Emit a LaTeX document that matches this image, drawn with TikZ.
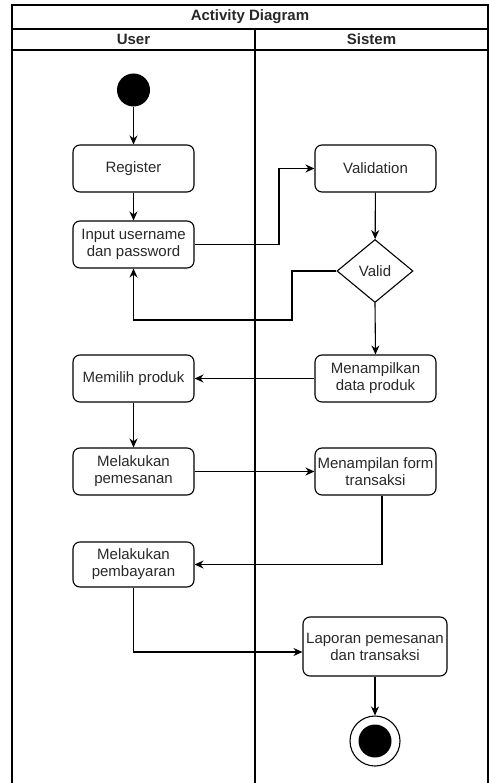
\documentclass[tikz,border=0pt]{standalone}
\usepackage{fontspec}
\setmainfont{Liberation Sans}
\usetikzlibrary{shapes.geometric,arrows.meta,calc}
\definecolor{txt}{RGB}{40,40,40}
\begin{document}
\begin{tikzpicture}[x=1pt,y=-1pt,
  ln/.style={line width=1.1pt},
  act/.style={draw,ln,rounded corners=7pt,minimum width=121pt,minimum height=47pt,align=center,inner sep=1pt,font=\fontsize{15}{17}\selectfont,text=txt},
  dec/.style={draw,ln,diamond,minimum width=76pt,minimum height=63pt,inner sep=0pt,font=\fontsize{15}{17}\selectfont,text=txt},
  arr/.style={ln,-{Stealth[length=9pt,width=8pt]}},
  hdr/.style={font=\fontsize{15}{17}\selectfont\bfseries,text=txt}]
\useasboundingbox (0,0) rectangle (489,783);
% frame
\draw[ln] (12,800) -- (12,5) -- (488,5) -- (488,800);
\draw[ln] (12,29) -- (488,29);
\draw[ln] (12,50) -- (488,50);
\draw[ln] (255,29) -- (255,800);
\node[hdr] (title) at (250,17) {Activity Diagram};
\node[hdr] (user) at (133.5,39.5) {User};
\node[hdr] (sistem) at (371.5,39.5) {Sistem};
% nodes
\node[circle,fill=black,minimum size=33pt,inner sep=0pt] (start) at (133.5,90) {};
\node[act] (reg) at (133.5,168.5) {Register};
\node[act] (inp) at (133.5,244.5) {Input username\\dan password};
\node[act] (val) at (375.5,168.5) {Validation};
\node[dec] (dec) at (375,271) {Valid};
\node[act] (tamp) at (375.5,378.5) {Menampilkan\\data produk};
\node[act] (pilih) at (133.5,378.5) {Memilih produk};
\node[act] (pesan) at (133.5,471.5) {Melakukan\\pemesanan};
\node[act] (form) at (375.5,471.5) {Menampilan form\\transaksi};
\node[act,minimum height=45pt] (bayar) at (133.5,564.5) {Melakukan\\pembayaran};
\node[act,minimum width=144pt,minimum height=59pt] (lap) at (375,646.5) {Laporan pemesanan\\dan transaksi};
\node[circle,draw,ln,minimum size=50pt,inner sep=0pt] (end) at (375,741) {};
\node[circle,fill=black,minimum size=33pt,inner sep=0pt] (endin) at (end.center) {};
% connectors
\draw[arr] (start) -- (reg);
\draw[arr] (reg) -- (inp);
\draw[arr] (inp.east) -- (279,244.5) |- (val.west);
\draw[arr] (val) -- (dec);
\draw[arr] (dec.west) -| (292,320) -| (inp.south);
\draw[arr] (dec.south) -- (tamp.north);
\draw[arr] (tamp.west) -- (pilih.east);
\draw[arr] (pilih) -- (pesan);
\draw[arr] (pesan.east) -- (form.west);
\draw[arr] ([xshift=6.5pt]form.south) |- (bayar.east);
\draw[arr] (bayar.south) |- ([yshift=-5.5pt]lap.west);
\draw[arr] (lap) -- (end);
\end{tikzpicture}
\end{document}
